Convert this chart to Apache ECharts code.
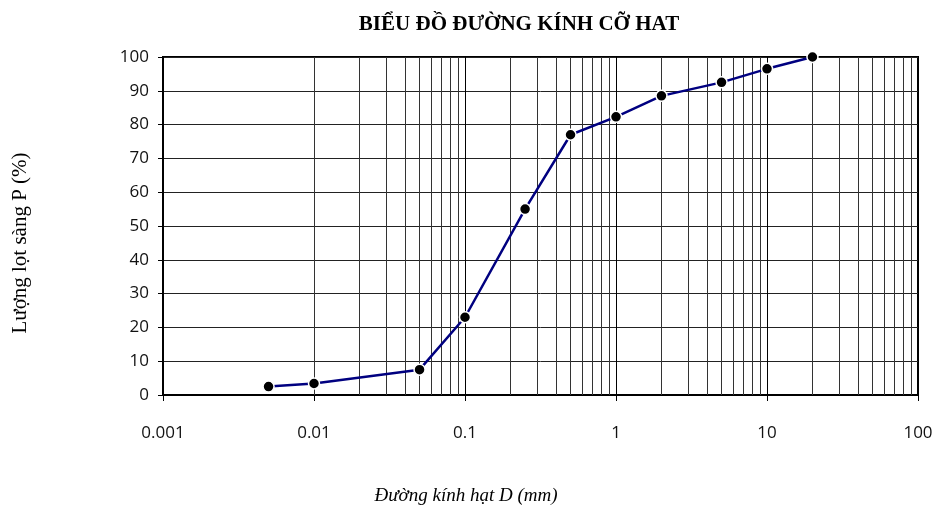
<!DOCTYPE html>
<html>
<head>
<meta charset="utf-8">
<script src="https://cdn.jsdelivr.net/npm/echarts@6/dist/echarts.min.js"></script>
<style>html,body{margin:0;padding:0;background:#fff}#c{width:941px;height:512px}</style>
</head>
<body>
<div id="c"></div>
<script>
const titleText = "BIỂU ĐỒ ĐƯỜNG KÍNH CỠ HAT";
const xName = "Đường kính hạt D (mm)";
const yName = "Lượng lọt sàng P (%)";
const diameters = [0.005, 0.01, 0.05, 0.1, 0.25, 0.5, 1, 2, 5, 10, 20];
const passing = [2.5, 3.4, 7.5, 23, 55, 77, 82.3, 88.5, 92.5, 96.5, 100];
const decades = [0.001, 0.01, 0.1, 1, 10];
const minorMultipliers = [2, 3, 4, 5, 6, 7, 8, 9];

const minorLines = [];
decades.forEach(d => minorMultipliers.forEach(m => minorLines.push({xAxis: Number((d * m).toPrecision(6))})));

const chart = echarts.init(document.getElementById('c'));
chart.setOption({
  animation: false,
  title: {
    text: titleText, left: 514, top: 9, textAlign: 'center',
    textStyle: {fontFamily: 'Liberation Serif', fontWeight: 'bold', fontSize: 21, color: '#000'}
  },
  graphic: [
    {type: 'text', x: 20, y: 243, rotation: Math.PI / 2,
     style: {text: yName, fontFamily: 'Liberation Serif', fontSize: 21, fill: '#000', align: 'center', verticalAlign: 'middle'}},
    {type: 'text', x: 466, y: 496,
     style: {text: xName, fontFamily: 'Liberation Serif', fontStyle: 'italic', fontSize: 19, fill: '#000', align: 'center', verticalAlign: 'middle'}}
  ],
  grid: {left: 163, right: 23, top: 57, bottom: 117, outerBoundsMode: 'none', containLabel: false,
         show: true, borderColor: '#000', borderWidth: 2, backgroundColor: 'transparent'},
  xAxis: {
    type: 'log', logBase: 10, min: 0.001, max: 100,
    axisLine: {show: true, lineStyle: {color: '#000', width: 2}},
    axisTick: {show: true, length: 6, lineStyle: {color: '#000'}},
    axisLabel: {margin: 30, fontFamily: 'Open Sans', fontSize: 17, color: '#111',
      formatter: v => String(Number(Number(v).toPrecision(6)))},
    splitLine: {show: true, lineStyle: {color: '#000', width: 1}}
  },
  yAxis: {
    type: 'value', min: 0, max: 100, interval: 10,
    axisLine: {show: true, lineStyle: {color: '#000', width: 2}},
    axisTick: {show: true, length: 5, lineStyle: {color: '#000'}},
    axisLabel: {margin: 14, fontFamily: 'Open Sans', fontSize: 17, color: '#111'},
    splitLine: {show: true, lineStyle: {color: '#222', width: 1}}
  },
  series: [{
    type: 'line',
    data: diameters.map((d, i) => [d, passing[i]]),
    lineStyle: {color: '#000080', width: 2.5},
    symbol: 'circle', symbolSize: 11,
    itemStyle: {color: '#000', borderColor: '#fff', borderWidth: 1.5},
    z: 5,
    markLine: {
      silent: true, symbol: 'none', label: {show: false},
      lineStyle: {type: 'solid', color: '#333', width: 1},
      animation: false,
      data: minorLines,
      z: 1
    }
  }]
});
</script>
</body>
</html>
